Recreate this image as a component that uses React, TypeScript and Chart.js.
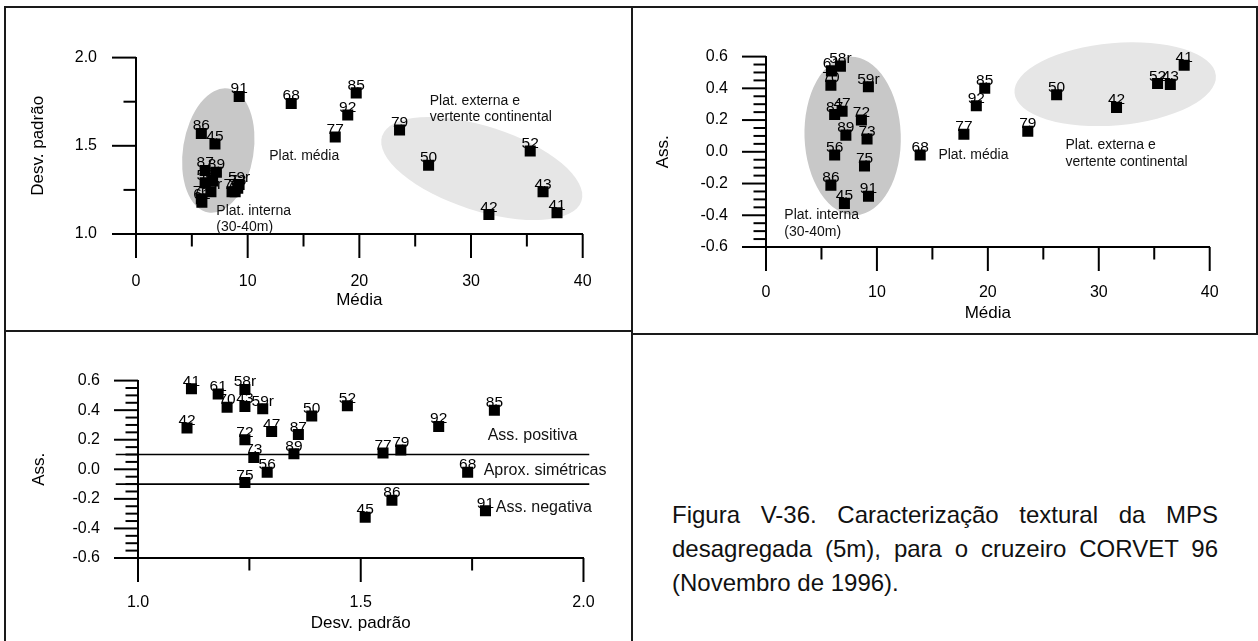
import React, { useEffect, useRef } from 'react';
import { Chart, registerables } from 'chart.js';

Chart.register(...registerables);

// ---------------- DATA ----------------
const stations = ['41', '42', '43', '45', '47', '50', '52', '56', '58r', '59r', '61', '68', '70', '72', '73', '75', '77', '79', '85', '86', '87', '89', '91', '92'];
const media = [37.7, 31.6, 36.45, 7.07, 6.86, 26.2, 35.3, 6.19, 6.71, 9.23, 5.9, 13.9, 5.85, 8.6, 9.11, 8.88, 17.84, 23.6, 19.72, 5.85, 6.19, 7.2, 9.24, 18.96];
const desvPadrao = [1.12, 1.11, 1.24, 1.51, 1.3, 1.39, 1.47, 1.29, 1.24, 1.28, 1.18, 1.74, 1.2, 1.24, 1.26, 1.24, 1.55, 1.59, 1.8, 1.57, 1.36, 1.35, 1.78, 1.675];
const assimetria = [0.545, 0.28, 0.425, -0.325, 0.255, 0.36, 0.43, -0.02, 0.54, 0.41, 0.51, -0.02, 0.42, 0.2, 0.08, -0.09, 0.11, 0.13, 0.4, -0.21, 0.235, 0.105, -0.28, 0.29];

// tick values
const mediaMajor = [0, 10, 20, 30, 40];
const mediaMinor = [5, 15, 25, 35];
const desvMajor = [1.0, 1.5, 2.0];
const desvMinor = [1.25, 1.75];
const assMajor = [-0.6, -0.4, -0.2, 0, 0.2, 0.4, 0.6];
const assMinor = [-0.55, -0.5, -0.45, -0.35, -0.3, -0.25, -0.15, -0.1, -0.05, 0.05, 0.1, 0.15, 0.25, 0.3, 0.35, 0.45, 0.5, 0.55];

// limit lines of the third plot (Ass. = +0.1 / -0.1)
const assLimits = [0.1, -0.1];
const limitSpan = [0.95, 2.013];

const FONT = '"Liberation Sans", Arial, Helvetica, sans-serif';
const DARK_GRAY = '#c8c8c8';
const LIGHT_GRAY = '#e6e6e6';

type Ellipse = { cx: number; cy: number; rx: number; ry: number; rot: number; color: string };
type Note = { x: number; y: number; lines: string[]; size: number; lh: number };
type AxisCfg = {
  min: number; max: number; major: number[]; minor: number[];
  fmt: (v: number) => string; tickPad: number; title: string; titlePad: number; fit: number;
};
type PanelCfg = {
  box: { l: number; t: number; w: number; h: number };
  padTop: number; padRight: number;
  x: AxisCfg; y: AxisCfg;
  px: number[]; py: number[];
  ellipses: Ellipse[];
  notes: Note[];
  limits: boolean;
};

const fmtInt = (v: number) => String(Math.round(v));
const fmt1 = (v: number) => (Math.abs(v) < 1e-9 ? 0 : v).toFixed(1);

const panel1: PanelCfg = {
  box: { l: 7, t: 9, w: 623, h: 320 },
  padTop: 20, padRight: 38,
  x: { min: 0, max: 40, major: mediaMajor, minor: mediaMinor, fmt: fmtInt, tickPad: 38.4, title: 'Média', titlePad: 18.8, fit: 95 },
  y: { min: 1, max: 2, major: desvMajor, minor: desvMinor, fmt: fmt1, tickPad: 39, title: 'Desv. padrão', titlePad: 20.8, fit: 129 },
  px: media, py: desvPadrao,
  ellipses: [
    { cx: 7.37, cy: 1.473, rx: 3.16, ry: 0.356, rot: 9, color: DARK_GRAY },
    { cx: 30.96, cy: 1.371, rx: 9.39, ry: 0.239, rot: 18, color: LIGHT_GRAY },
  ],
  notes: [
    { x: 11.93, y: 1.444, lines: ['Plat. média'], size: 14, lh: 16 },
    { x: 7.19, y: 1.132, lines: ['Plat. interna', '(30-40m)'], size: 14, lh: 16 },
    { x: 26.3, y: 1.756, lines: ['Plat. externa e', 'vertente continental'], size: 14, lh: 16 },
  ],
  limits: false,
};

const panel2: PanelCfg = {
  box: { l: 634, t: 9, w: 621, h: 323 },
  padTop: 34, padRight: 28,
  x: { min: 0, max: 40, major: mediaMajor, minor: mediaMinor, fmt: fmtInt, tickPad: 36.4, title: 'Média', titlePad: 8.8, fit: 85 },
  y: { min: -0.6, max: 0.6, major: assMajor, minor: assMinor, fmt: fmt1, tickPad: 38, title: 'Ass.', titlePad: 18.8, fit: 132 },
  px: media, py: assimetria,
  ellipses: [
    { cx: 7.81, cy: 0.1, rx: 4.34, ry: 0.5, rot: -2, color: DARK_GRAY },
    { cx: 31.48, cy: 0.426, rx: 9.11, ry: 0.259, rot: -5, color: LIGHT_GRAY },
  ],
  notes: [
    { x: 15.54, y: -0.018, lines: ['Plat. média'], size: 14, lh: 17 },
    { x: 27.0, y: 0.041, lines: ['Plat. externa e', 'vertente continental'], size: 14, lh: 17 },
    { x: 1.65, y: -0.4, lines: ['Plat. interna', '(30-40m)'], size: 14, lh: 17 },
  ],
  limits: false,
};

const panel3: PanelCfg = {
  box: { l: 7, t: 333, w: 623, h: 308 },
  padTop: 19, padRight: 46,
  x: { min: 1, max: 2, major: desvMajor, minor: desvMinor, fmt: fmt1, tickPad: 35.4, title: 'Desv. padrão', titlePad: 7.8, fit: 83 },
  y: { min: -0.6, max: 0.6, major: assMajor, minor: assMinor, fmt: fmt1, tickPad: 38, title: 'Ass.', titlePad: 21.8, fit: 131 },
  px: desvPadrao, py: assimetria,
  ellipses: [],
  notes: [
    { x: 1.785, y: 0.227, lines: ['Ass. positiva'], size: 16, lh: 18 },
    { x: 1.776, y: -0.006, lines: ['Aprox. simétricas'], size: 16, lh: 18 },
    { x: 1.803, y: -0.262, lines: ['Ass. negativa'], size: 16, lh: 18 },
  ],
  limits: true,
};

const MAJOR_LEN = 24;
const MINOR_LEN = 12.5;

function makePlugin(cfg: PanelCfg) {
  return {
    id: 'panelDecor',
    beforeDatasetsDraw(chart: any) {
      const { ctx, scales } = chart;
      const xs = scales.x, ys = scales.y;
      ctx.save();
      cfg.ellipses.forEach((e) => {
        const cx = xs.getPixelForValue(e.cx);
        const cy = ys.getPixelForValue(e.cy);
        const rx = Math.abs(xs.getPixelForValue(e.cx + e.rx) - cx);
        const ry = Math.abs(ys.getPixelForValue(e.cy + e.ry) - cy);
        ctx.beginPath();
        ctx.ellipse(cx, cy, rx, ry, (e.rot * Math.PI) / 180, 0, Math.PI * 2);
        ctx.fillStyle = e.color;
        ctx.fill();
      });
      ctx.restore();
    },
    afterDatasetsDraw(chart: any) {
      const { ctx, scales } = chart;
      const xs = scales.x, ys = scales.y;
      ctx.save();
      ctx.fillStyle = '#000';
      // point labels
      const meta = chart.getDatasetMeta(0);
      ctx.font = `15.5px ${FONT}`;
      ctx.textAlign = 'center';
      ctx.textBaseline = 'alphabetic';
      meta.data.forEach((el: any, i: number) => {
        ctx.fillText(stations[i], el.x, el.y - 3);
      });
      // region notes
      ctx.textAlign = 'left';
      ctx.textBaseline = 'middle';
      ctx.fillStyle = '#111';
      cfg.notes.forEach((n) => {
        const px = xs.getPixelForValue(n.x);
        const py = ys.getPixelForValue(n.y);
        ctx.font = `${n.size}px ${FONT}`;
        n.lines.forEach((t, k) => ctx.fillText(t, px, py + k * n.lh));
      });
      ctx.restore();
    },
    afterDraw(chart: any) {
      const { ctx, scales, chartArea: ca } = chart;
      const xs = scales.x, ys = scales.y;
      ctx.save();
      ctx.strokeStyle = '#000';
      ctx.lineWidth = 2;
      ctx.lineCap = 'butt';
      const xt = (vals: number[], len: number) =>
        vals.forEach((v) => {
          const p = xs.getPixelForValue(v);
          ctx.beginPath();
          ctx.moveTo(p, ca.bottom);
          ctx.lineTo(p, ca.bottom + len);
          ctx.stroke();
        });
      const yt = (vals: number[], len: number) =>
        vals.forEach((v) => {
          const p = ys.getPixelForValue(v);
          ctx.beginPath();
          ctx.moveTo(ca.left, p);
          ctx.lineTo(ca.left - len, p);
          ctx.stroke();
        });
      xt(cfg.x.major, MAJOR_LEN);
      xt(cfg.x.minor, MINOR_LEN);
      yt(cfg.y.major, MAJOR_LEN);
      yt(cfg.y.minor, MINOR_LEN);
      ctx.restore();
    },
  };
}

function axisOptions(ax: AxisCfg, isX: boolean) {
  return {
    type: 'linear',
    min: ax.min,
    max: ax.max,
    afterFit: (s: any) => {
      if (isX) s.height = ax.fit;
      else s.width = ax.fit;
    },
    afterBuildTicks: (s: any) => {
      s.ticks = ax.major.map((v) => ({ value: v }));
    },
    grid: { display: false, drawTicks: false },
    border: { display: true, color: '#000', width: 2 },
    ticks: {
      autoSkip: false,
      maxRotation: 0,
      minRotation: 0,
      padding: ax.tickPad,
      color: '#000',
      font: { family: FONT, size: 16 },
      callback: (v: any) => ax.fmt(Number(v)),
    },
    title: {
      display: true,
      text: ax.title,
      color: '#000',
      font: { family: FONT, size: 17 },
      padding: isX ? { top: 0, bottom: ax.titlePad } : { top: ax.titlePad, bottom: 0 },
    },
  };
}

function buildConfig(cfg: PanelCfg): any {
  const datasets: any[] = [
    {
      data: cfg.px.map((v, i) => ({ x: v, y: cfg.py[i] })),
      pointStyle: 'rect',
      pointRadius: 7.8,
      pointHoverRadius: 7.8,
      backgroundColor: '#000',
      borderWidth: 0,
      showLine: false,
    },
  ];
  if (cfg.limits) {
    assLimits.forEach((a) => {
      datasets.push({
        data: limitSpan.map((x) => ({ x, y: a })),
        showLine: true,
        pointRadius: 0,
        borderColor: '#000',
        borderWidth: 1.6,
        clip: false,
      });
    });
  }
  return {
    type: 'scatter',
    data: { datasets },
    options: {
      responsive: false,
      maintainAspectRatio: false,
      animation: false,
      events: [],
      layout: { padding: { top: cfg.padTop, right: cfg.padRight, left: 0, bottom: 0 } },
      plugins: { legend: { display: false }, tooltip: { enabled: false } },
      scales: { x: axisOptions(cfg.x, true), y: axisOptions(cfg.y, false) },
    },
    plugins: [makePlugin(cfg)],
  };
}

function Panel({ cfg }: { cfg: PanelCfg }) {
  const ref = useRef<HTMLCanvasElement>(null);
  useEffect(() => {
    const chart = new Chart(ref.current as HTMLCanvasElement, buildConfig(cfg));
    return () => chart.destroy();
  }, [cfg]);
  const { l, t, w, h } = cfg.box;
  return (
    <canvas
      ref={ref}
      width={w}
      height={h}
      style={{ position: 'absolute', left: l, top: t, width: w, height: h }}
    />
  );
}

const frame = (left: number, top: number, width: number, height: number): React.CSSProperties => ({
  position: 'absolute',
  left,
  top,
  width,
  height,
  boxSizing: 'border-box',
  border: '2px solid #1a1a1a',
});

export default function App() {
  return (
    <div
      style={{
        position: 'absolute',
        left: 0,
        top: 0,
        width: 1258,
        height: 641,
        overflow: 'hidden',
        background: '#fff',
      }}
    >
      <div style={frame(4, 6, 629, 326)} />
      <div style={frame(631, 6, 627, 329)} />
      <div style={frame(4, 330, 629, 330)} />
      <Panel cfg={panel1} />
      <Panel cfg={panel2} />
      <Panel cfg={panel3} />
      <div
        style={{
          position: 'absolute',
          left: 672,
          top: 498,
          width: 546,
          fontFamily: FONT,
          fontSize: 24,
          lineHeight: '34px',
          textAlign: 'justify',
          color: '#111',
        }}
      >
        Figura V-36. Caracterização textural da MPS desagregada (5m), para o cruzeiro CORVET 96 (Novembro de 1996).
      </div>
    </div>
  );
}
